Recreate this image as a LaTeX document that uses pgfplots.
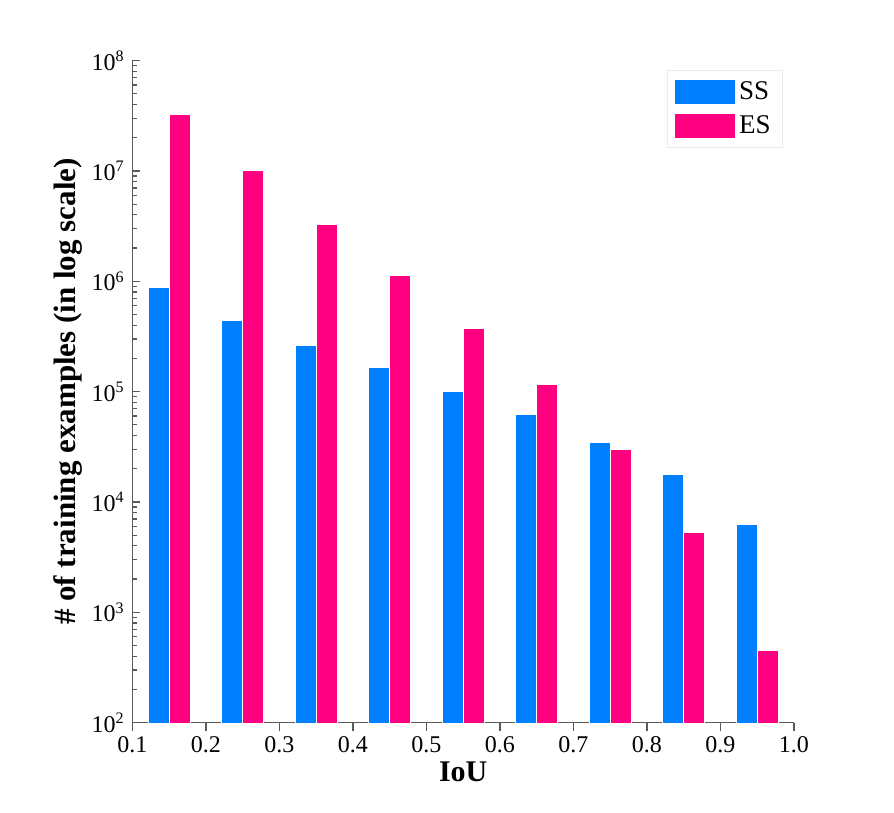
\documentclass[border=0pt]{standalone}
\usepackage{fontspec}
\setmainfont{Liberation Serif}
\usepackage{pgfplots}
\pgfplotsset{compat=1.18}
\definecolor{ssblue}{HTML}{0080FF}
\definecolor{espink}{HTML}{FF0080}
\definecolor{axgray}{HTML}{5A5A5A}

\begin{document}
\begin{tikzpicture}
\useasboundingbox (-66.25pt,-45.2pt) rectangle (380.75pt,361.3pt);
\begin{axis}[
  scale only axis, width=330.75pt, height=331pt,
  ymode=log, log basis y=10, ymin=1e2, ymax=1e8,
  xmin=0.1, xmax=1.0,
  ytick={1e2,1e3,1e4,1e5,1e6,1e7,1e8},
  yticklabels={10\textsuperscript{2},10\textsuperscript{3},10\textsuperscript{4},
    10\textsuperscript{5},10\textsuperscript{6},10\textsuperscript{7},10\textsuperscript{8}},
  minor ytick={2e2,3e2,4e2,5e2,6e2,7e2,8e2,9e2,
    2e3,3e3,4e3,5e3,6e3,7e3,8e3,9e3,
    2e4,3e4,4e4,5e4,6e4,7e4,8e4,9e4,
    2e5,3e5,4e5,5e5,6e5,7e5,8e5,9e5,
    2e6,3e6,4e6,5e6,6e6,7e6,8e6,9e6,
    2e7,3e7,4e7,5e7,6e7,7e7,8e7,9e7},
  axis x line*=bottom, axis y line*=left,
  axis line style={axgray, line width=0.75pt},
  every tick/.style={axgray, line width=0.6pt},
  major tick length=4pt, minor tick length=2.2pt,
  tick align=inside,
  xtick={0.1,0.2,0.3,0.4,0.5,0.6,0.7,0.8,0.9,1.0},
  xticklabels={0.1,0.2,0.3,0.4,0.5,0.6,0.7,0.8,0.9,1.0},
  ticklabel style={font=\fontsize{12}{14}\selectfont},
  xticklabel style={anchor=base, yshift=-11pt},
  yticklabel style={inner xsep=0pt, xshift=-3.75pt},
  xlabel={\textbf{IoU}},
  ylabel={\textbf{\# of training examples (in log scale)}},
  every axis x label/.style={at={(axis description cs:0.5,0)}, anchor=base,
    yshift=-29.7pt, font=\fontsize{15}{17}\selectfont},
  every axis y label/.style={at={(axis description cs:0,0.5)}, rotate=90,
    anchor=south, inner sep=0pt, yshift=25pt, font=\fontsize{15.5}{17}\selectfont},
  ybar, bar width=10.5pt,
  legend style={at={(1,1)}, anchor=north east, xshift=-5.5pt, yshift=-4.75pt,
    draw=black!8, font=\fontsize{13.5}{15}\selectfont, row sep=2.5pt,
    inner xsep=4pt, inner ysep=3.5pt},
  legend cell align=left,
  legend image code/.code={\fill[#1,draw=none] (0pt,-6pt) rectangle (30pt,6pt);},
]
% SS: selective search proposals per IoU bin
\addplot[fill=ssblue, draw=white, line width=0.5pt, bar shift=-5.25pt] coordinates {
  (0.15,8.7e5) (0.25,4.4e5) (0.35,2.6e5) (0.45,1.64e5) (0.55,1.01e5)
  (0.65,6.15e4) (0.75,3.43e4) (0.85,1.76e4) (0.95,6.2e3)};
% ES: exhaustive search windows per IoU bin
\addplot[fill=espink, draw=white, line width=0.5pt, bar shift=5.25pt] coordinates {
  (0.15,3.25e7) (0.25,1.0e7) (0.35,3.3e6) (0.45,1.12e6) (0.55,3.7e5)
  (0.65,1.15e5) (0.75,2.96e4) (0.85,5.24e3) (0.95,446)};
\legend{SS,ES}
\end{axis}
\end{tikzpicture}
\end{document}
